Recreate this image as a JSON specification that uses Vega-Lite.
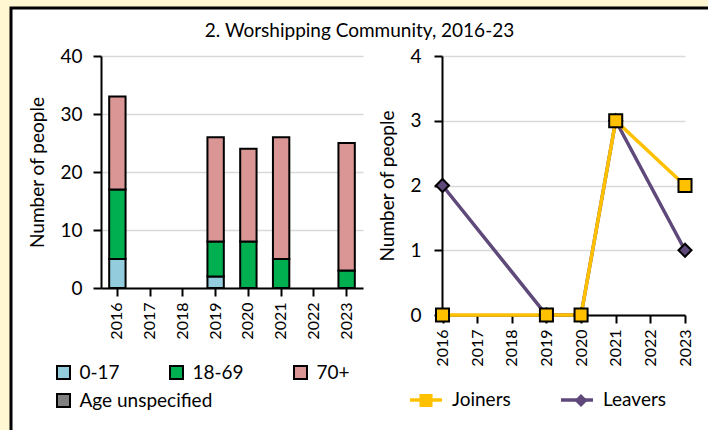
{
  "$schema": "https://vega.github.io/schema/vega-lite/v6.json",
  "width": 697,
  "height": 422,
  "autosize": {"type": "none"},
  "padding": {"left": 11, "top": 8, "right": 0, "bottom": 0},
  "background": "#FFF7D1",
  "title": {"text": "2. Worshipping Community, 2016-23", "fontSize": 19, "fontWeight": "normal", "font": "Lato", "color": "black", "anchor": "middle", "offset": -33},
  "config": {
    "font": "Lato",
    "view": {"fill": "white", "stroke": "black", "strokeWidth": 3, "strokeDash": [697, 1119, 422]},
    "axis": {"domainColor": "black", "domainWidth": 2, "tickColor": "black", "tickWidth": 2, "tickSize": 8, "labelColor": "black", "titleColor": "black", "titleFontWeight": "normal", "labelFontSize": 19, "titleFontSize": 19, "gridColor": "#D9D9D9", "gridWidth": 1.5},
    "legend": {"labelFontSize": 19, "labelColor": "black", "padding": 0}
  },
  "datasets": {
    "ages": [
      {"year": "2016", "age": "0-17", "count": 5},
      {"year": "2016", "age": "18-69", "count": 12},
      {"year": "2016", "age": "70+", "count": 16},
      {"year": "2019", "age": "0-17", "count": 2},
      {"year": "2019", "age": "18-69", "count": 6},
      {"year": "2019", "age": "70+", "count": 18},
      {"year": "2020", "age": "18-69", "count": 8},
      {"year": "2020", "age": "70+", "count": 16},
      {"year": "2021", "age": "18-69", "count": 5},
      {"year": "2021", "age": "70+", "count": 21},
      {"year": "2023", "age": "18-69", "count": 3},
      {"year": "2023", "age": "70+", "count": 22}
    ],
    "flow": [
      {"year": "2016", "series": "Leavers", "value": 2},
      {"year": "2019", "series": "Leavers", "value": 0},
      {"year": "2020", "series": "Leavers", "value": 0},
      {"year": "2021", "series": "Leavers", "value": 3},
      {"year": "2023", "series": "Leavers", "value": 1},
      {"year": "2016", "series": "Joiners", "value": 0},
      {"year": "2019", "series": "Joiners", "value": 0},
      {"year": "2020", "series": "Joiners", "value": 0},
      {"year": "2021", "series": "Joiners", "value": 3},
      {"year": "2023", "series": "Joiners", "value": 2}
    ]
  },
  "resolve": {"scale": {"x": "independent", "y": "independent", "color": "independent"}},
  "layer": [
    {
      "data": {"name": "ages"},
      "mark": {"type": "bar", "strokeWidth": 2},
      "encoding": {
        "x": {"field": "year", "type": "ordinal",
              "scale": {"type": "band", "domain": ["2016","2017","2018","2019","2020","2021","2022","2023"], "range": [90, 352], "paddingInner": 0.5, "paddingOuter": 0.25},
              "axis": {"orient": "bottom", "offset": -142, "title": null, "labelAngle": -90, "labelFontSize": 16, "labelPadding": 6, "grid": false}},
        "y": {"field": "count", "type": "quantitative", "stack": "zero",
              "scale": {"domain": [0, 40], "range": [280, 48]},
              "axis": {"orient": "left", "offset": -90, "values": [0, 10, 20, 30, 40], "title": "Number of people", "labelPadding": 11, "titlePadding": 12, "grid": true}},
        "order": {"field": "age", "type": "ordinal", "sort": "ascending"},
        "color": {"field": "age", "type": "nominal",
                  "scale": {"domain": ["0-17", "18-69", "70+", "Age unspecified"], "range": ["#93CDDD", "#00B050", "#D99694", "#808080"]},
                  "legend": {"title": null, "orient": "none", "legendX": 43, "legendY": 355, "direction": "horizontal", "values": ["0-17", "18-69", "70+"], "columnPadding": 46, "symbolType": "square", "symbolSize": 169, "symbolStrokeColor": "black", "symbolStrokeWidth": 2, "symbolOpacity": 1, "labelOffset": 6.5}},
        "stroke": {"field": "age", "type": "nominal",
                   "scale": {"domain": ["Age unspecified", "0-17", "18-69", "70+"], "range": ["black", "black", "black", "black"]},
                   "legend": {"title": null, "orient": "none", "legendX": 43, "legendY": 383, "values": ["Age unspecified"], "symbolType": "square", "symbolSize": 169, "symbolFillColor": "#808080", "symbolStrokeColor": "black", "symbolStrokeWidth": 2, "symbolOpacity": 1, "labelOffset": 6.5}}
      }
    },
    {
      "data": {"name": "flow"},
      "mark": {"type": "line", "strokeWidth": 3.5},
      "encoding": {
        "x": {"field": "year", "type": "ordinal",
              "scale": {"type": "point", "domain": ["2016","2017","2018","2019","2020","2021","2022","2023"], "range": [431.5, 674], "padding": 0},
              "axis": {"orient": "bottom", "offset": -115, "title": null, "labelAngle": -90, "labelFontSize": 16, "labelPadding": 6, "grid": false}},
        "y": {"field": "value", "type": "quantitative",
              "scale": {"domain": [0, 4], "range": [307, 48]},
              "axis": {"orient": "left", "offset": -431, "values": [0, 1, 2, 3, 4], "title": "Number of people", "labelPadding": 13, "titlePadding": 12, "grid": true}},
        "color": {"field": "series", "type": "nominal",
                  "scale": {"domain": ["Joiners", "Leavers"], "range": ["#FFC000", "#5F497A"]},
                  "legend": {"title": null, "orient": "none", "legendX": 397, "legendY": 374, "direction": "horizontal", "symbolType": "stroke", "symbolSize": 1024, "symbolStrokeWidth": 3.5, "labelOffset": 8, "columnPadding": 43}}
      }
    },
    {
      "data": {"name": "flow"},
      "mark": {"type": "point", "filled": true, "size": 170, "stroke": "black", "strokeWidth": 2, "opacity": 1},
      "encoding": {
        "x": {"field": "year", "type": "ordinal",
              "scale": {"type": "point", "domain": ["2016","2017","2018","2019","2020","2021","2022","2023"], "range": [431.5, 674], "padding": 0},
              "axis": null},
        "y": {"field": "value", "type": "quantitative",
              "scale": {"domain": [0, 4], "range": [307, 48]},
              "axis": null},
        "fill": {"field": "series", "type": "nominal",
                 "scale": {"range": ["#FFC000", "#5F497A"]},
                 "legend": {"title": null, "orient": "none", "legendX": 397, "legendY": 382.5, "direction": "horizontal", "symbolSize": 170, "symbolStrokeColor": "black", "symbolStrokeWidth": 2, "symbolOffset": 8.5, "labelOffset": 25, "columnPadding": 102, "labelExpr": "''"}},
        "shape": {"field": "series", "type": "nominal",
                  "scale": {"range": ["square", "diamond"]},
                  "legend": {"title": null, "orient": "none", "legendX": 397, "legendY": 382.5, "direction": "horizontal", "symbolSize": 170, "symbolStrokeColor": "black", "symbolStrokeWidth": 2, "symbolOffset": 8.5, "labelOffset": 25, "columnPadding": 102, "labelExpr": "''"}}
      }
    }
  ]
}
